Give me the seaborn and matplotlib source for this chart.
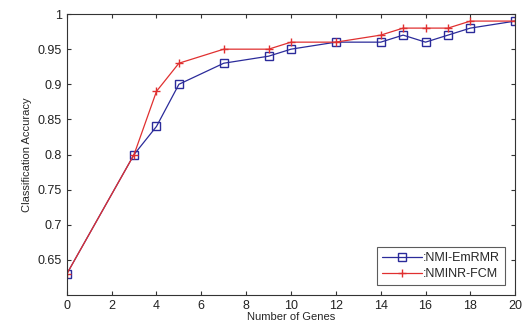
import numpy as np
import pandas as pd
import seaborn as sns
import matplotlib.pyplot as plt

genes = [0, 3, 4, 5, 7, 9, 10, 12, 14, 15, 16, 17, 18, 20]
nmi_emrmr = [0.63, 0.80, 0.84, 0.90, 0.93, 0.94, 0.95, 0.96, 0.96, 0.97, 0.96, 0.97, 0.98, 0.99]
nminr_fcm = [0.63, 0.80, 0.89, 0.93, 0.95, 0.95, 0.96, 0.96, 0.97, 0.98, 0.98, 0.98, 0.99, 0.99]

blue = "#2b2b9a"
red = "#e03030"

sns.set_style("ticks")
plt.rcParams["font.family"] = ["Liberation Sans", "DejaVu Sans"]

fig = plt.figure(figsize=(5.22, 3.27), dpi=100)
ax = fig.add_axes([0.128, 0.098, 0.859, 0.859])

# blue series with open squares
sns.lineplot(x=genes, y=nmi_emrmr, color=blue, marker="s", markersize=5.5,
             markerfacecolor="none", markeredgecolor=blue, markeredgewidth=1.0,
             linewidth=0.9, label=":NMI-EmRMR", ax=ax)
# red series with plus markers
sns.lineplot(x=genes, y=nminr_fcm, color=red, marker="+", markersize=6,
             markeredgecolor=red, markeredgewidth=1.0,
             linewidth=0.9, label=":NMINR-FCM", ax=ax)

ax.set_xlim(0, 20)
ax.set_ylim(0.6, 1.0)
ax.set_xticks(range(0, 21, 2))
ax.set_yticks([0.65, 0.7, 0.75, 0.8, 0.85, 0.9, 0.95, 1.0])
ax.set_yticklabels(["0.65", "0.7", "0.75", "0.8", "0.85", "0.9", "0.95", "1"])
ax.tick_params(direction="in", top=True, right=True, labelsize=9, length=3,
               colors="#333333", labelcolor="#222222")
for s in ax.spines.values():
    s.set_color("#333333")
    s.set_linewidth(0.8)
ax.set_xlabel("Number of Genes", fontsize=8, labelpad=0)
ax.set_ylabel("Classification Accuracy", fontsize=8, labelpad=4)

leg = ax.legend(loc="lower right", fontsize=9, frameon=True, fancybox=False,
                edgecolor="#333333", handlelength=3.2, borderaxespad=0.8,
                borderpad=0.4, labelspacing=0.3, handletextpad=0.1)
leg.get_frame().set_linewidth(0.8)

fig.savefig("out.png", dpi=100)
